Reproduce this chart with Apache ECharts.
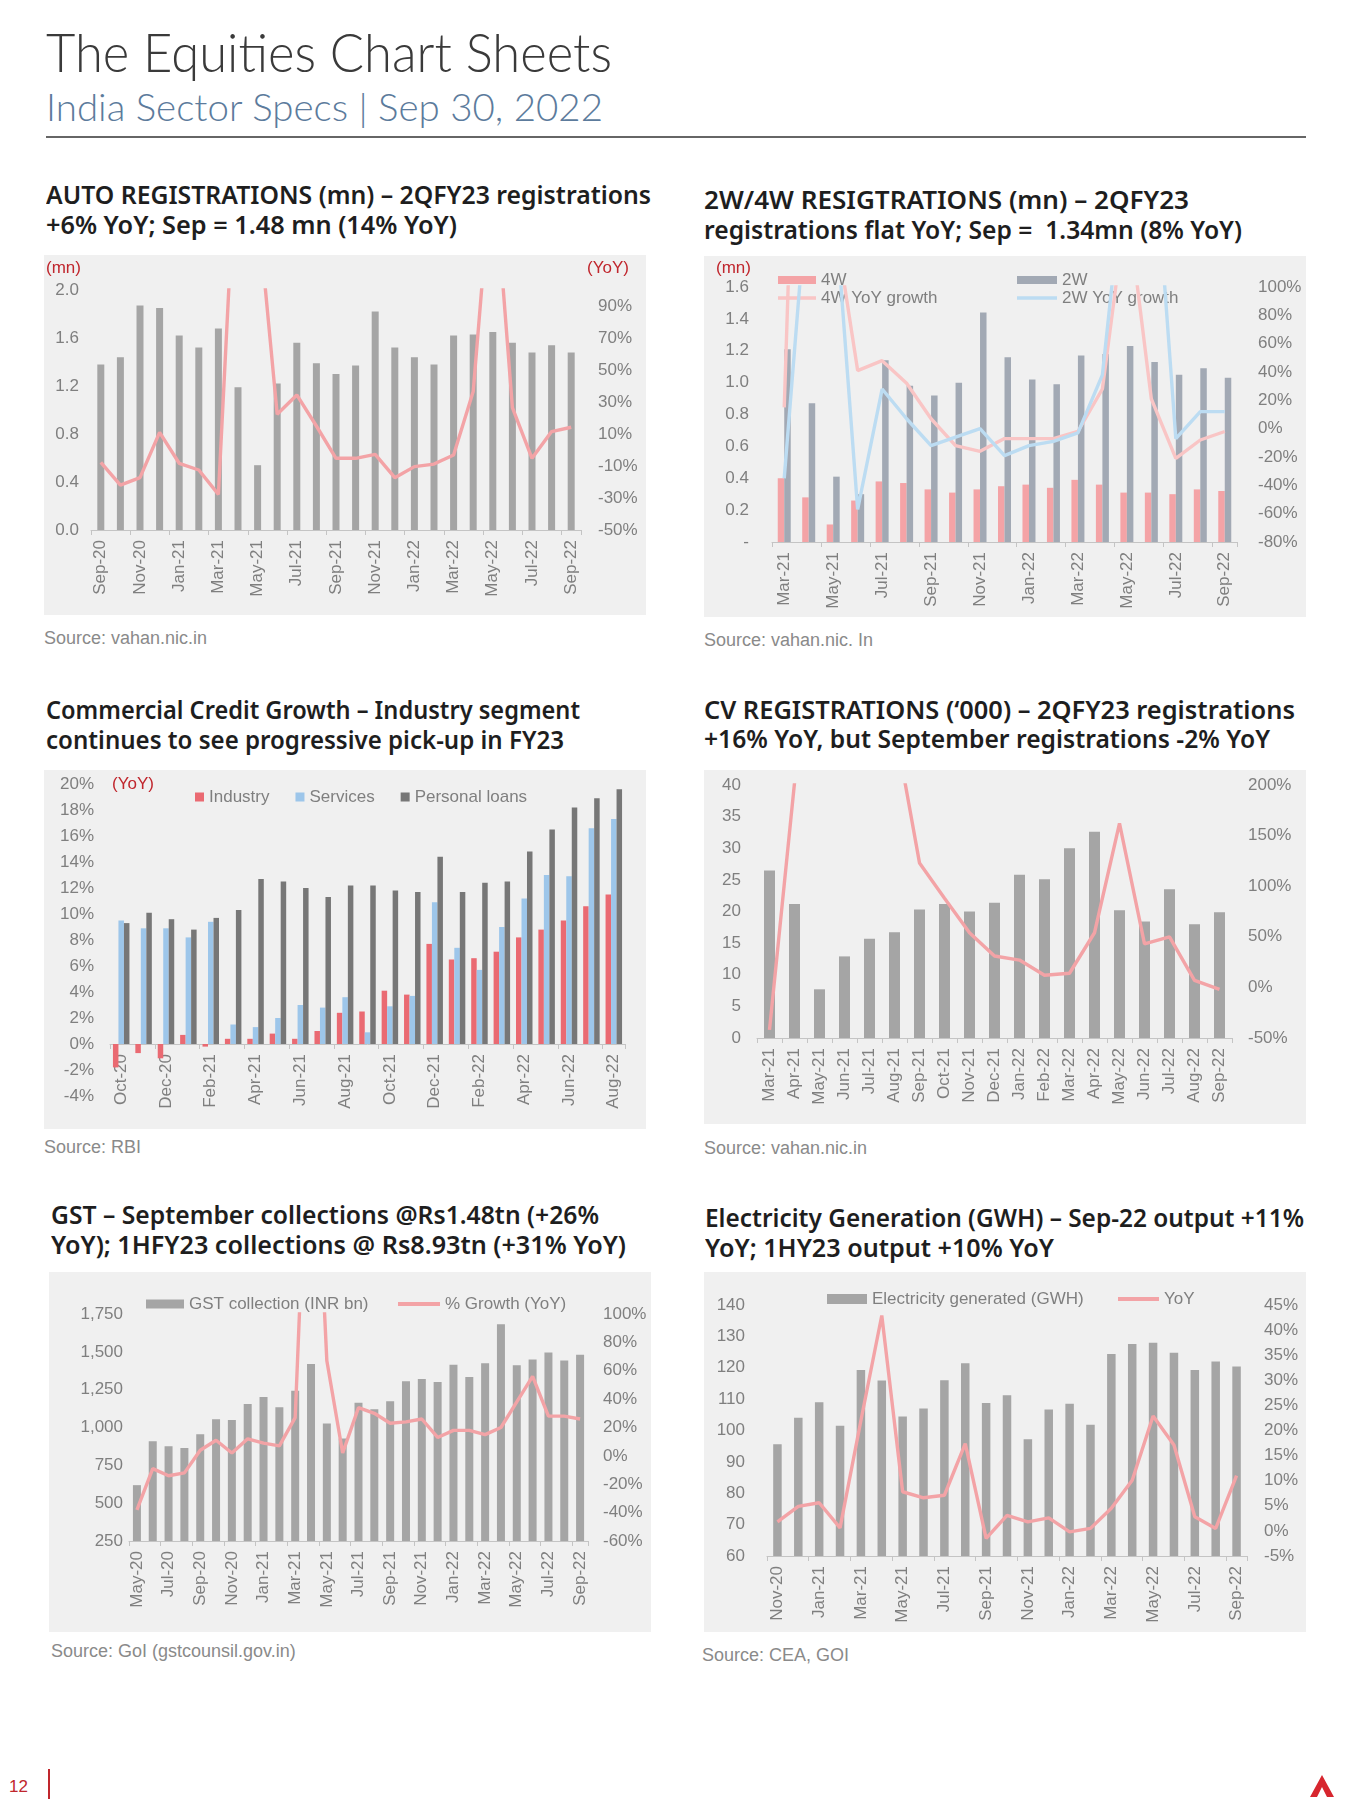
<!DOCTYPE html>
<html>
<head>
<meta charset="utf-8">
<script src="https://cdn.jsdelivr.net/npm/echarts/dist/echarts.min.js"></script>
<style>
  html,body{margin:0;padding:0;}
  body{width:1350px;height:1800px;background:#fff;position:relative;overflow:hidden;font-family:'Liberation Sans',Arial,sans-serif;}
  .t{position:absolute;white-space:pre;display:inline-block;transform-origin:left center;}
  .hdr{font-family:Lato,'Open Sans',sans-serif;font-weight:300;color:#3a3a3a;}
  .pt{font-family:'Noto Sans',sans-serif;font-weight:600;font-size:25px;line-height:30px;color:#1e1e1e;}
  .src{font-size:18px;line-height:20px;color:#8a8a8a;}
  .red{font-size:17px;line-height:20px;color:#c0262d;z-index:5;}
  .chart{position:absolute;background:#f0f0f0;}
</style>
</head>
<body>
<div class="t hdr" data-w="566" style="left:46px;top:20px;font-size:54px;line-height:64px;">The Equities Chart Sheets</div>
<div class="t hdr" data-w="557" style="left:46px;top:84px;font-size:38px;line-height:44px;color:#5c7b9c;">India Sector Specs | Sep 30, 2022</div>
<div style="position:absolute;left:46px;top:136px;width:1260px;height:1.5px;background:#666;"></div>

<div class="t pt" data-w="605" style="left:46px;top:179px;">AUTO REGISTRATIONS (mn) – 2QFY23 registrations</div>
<div class="t pt" data-w="411" style="left:46px;top:209px;">+6% YoY; Sep = 1.48 mn (14% YoY)</div>
<div class="t pt" data-w="485" style="left:704px;top:184px;">2W/4W RESIGTRATIONS (mn) – 2QFY23</div>
<div class="t pt" data-w="538" style="left:704px;top:214px;">registrations flat YoY; Sep =  1.34mn (8% YoY)</div>
<div class="t pt" data-w="534" style="left:46px;top:694px;">Commercial Credit Growth – Industry segment</div>
<div class="t pt" data-w="518" style="left:46px;top:724px;">continues to see progressive pick-up in FY23</div>
<div class="t pt" data-w="591" style="left:704px;top:694px;">CV REGISTRATIONS (‘000) – 2QFY23 registrations</div>
<div class="t pt" data-w="566" style="left:704px;top:723px;">+16% YoY, but September registrations -2% YoY</div>
<div class="t pt" data-w="548" style="left:51px;top:1199px;">GST – September collections @Rs1.48tn (+26%</div>
<div class="t pt" data-w="575" style="left:51px;top:1229px;">YoY); 1HFY23 collections @ Rs8.93tn (+31% YoY)</div>
<div class="t pt" data-w="599" style="left:705px;top:1202px;">Electricity Generation (GWH) – Sep-22 output +11%</div>
<div class="t pt" data-w="349" style="left:705px;top:1232px;">YoY; 1HY23 output +10% YoY</div>

<div id="c1" class="chart" style="left:44px;top:255px;width:602px;height:360px;"></div>
<div id="c2" class="chart" style="left:704px;top:256px;width:602px;height:361px;"></div>
<div id="c3" class="chart" style="left:44px;top:770px;width:602px;height:359px;"></div>
<div id="c4" class="chart" style="left:704px;top:770px;width:602px;height:354px;"></div>
<div id="c5" class="chart" style="left:49px;top:1272px;width:602px;height:360px;"></div>
<div id="c6" class="chart" style="left:704px;top:1272px;width:602px;height:360px;"></div>

<div class="t red" style="left:46px;top:258px;">(mn)</div>
<div class="t red" style="left:587px;top:258px;">(YoY)</div>
<div class="t red" style="left:716px;top:258px;">(mn)</div>
<div class="t red" style="left:112px;top:774px;">(YoY)</div>

<div class="t src" style="left:44px;top:628px;">Source: vahan.nic.in</div>
<div class="t src" style="left:704px;top:630px;">Source: vahan.nic. In</div>
<div class="t src" style="left:44px;top:1137px;">Source: RBI</div>
<div class="t src" style="left:704px;top:1138px;">Source: vahan.nic.in</div>
<div class="t src" style="left:51px;top:1641px;">Source: GoI (gstcounsil.gov.in)</div>
<div class="t src" style="left:702px;top:1645px;">Source: CEA, GOI</div>

<div class="t" style="left:9px;top:1777px;font-size:17px;line-height:20px;color:#c0262d;">12</div>
<div style="position:absolute;left:48px;top:1769px;width:1.5px;height:30px;background:#c0262d;"></div>
<svg style="position:absolute;left:1310px;top:1775px;" width="24" height="22" viewBox="0 0 24 22">
  <path d="M12 0 L24 22 L17 22 L12 12 L7 22 L0 22 Z" fill="#d7262e"/>
</svg>

<script>
// ---------------- DATA ----------------
// Panel 1: Auto registrations
const autoMonths = ['Sep-20','Oct-20','Nov-20','Dec-20','Jan-21','Feb-21','Mar-21','Apr-21','May-21','Jun-21','Jul-21','Aug-21','Sep-21','Oct-21','Nov-21','Dec-21','Jan-22','Feb-22','Mar-22','Apr-22','May-22','Jun-22','Jul-22','Aug-22','Sep-22'];
const autoRegistrations = [1.38,1.44,1.87,1.85,1.62,1.52,1.68,1.19,0.54,1.22,1.56,1.39,1.30,1.37,1.82,1.52,1.44,1.38,1.62,1.63,1.65,1.56,1.48,1.54,1.48];
const autoYoY = [-7.7,-21.9,-17.3,11,-8.3,-12.5,-27.7,214,152,22.3,34.4,15,-5.2,-5.2,-2.7,-17.3,-10.4,-8.8,-3.1,36.5,185,26.5,-5.2,11.5,14.2];

// Panel 2: 2W / 4W registrations
const twMonths = ['Mar-21','Apr-21','May-21','Jun-21','Jul-21','Aug-21','Sep-21','Oct-21','Nov-21','Dec-21','Jan-22','Feb-22','Mar-22','Apr-22','May-22','Jun-22','Jul-22','Aug-22','Sep-22'];
const fourW = [0.40,0.28,0.11,0.26,0.38,0.37,0.33,0.31,0.33,0.35,0.36,0.34,0.39,0.36,0.31,0.31,0.30,0.33,0.32];
const twoW = [1.21,0.87,0.41,0.30,1.14,0.98,0.92,1.00,1.44,1.16,1.02,0.99,1.17,1.18,1.23,1.13,1.05,1.09,1.03];
const fourWYoY = [15,548,153,41,48,32,7,-12,-16,-7,-7,-7,-2,28,160,21,-21,-8,-2];
const twoWYoY = [-35,180,174,-57,28,7,-12,-6,0,-19,-12,-9,-3,38,200,230,-7,12,12];

// Panel 3: Commercial credit growth (YoY %)
const creditMonths = ['Oct-20','Nov-20','Dec-20','Jan-21','Feb-21','Mar-21','Apr-21','May-21','Jun-21','Jul-21','Aug-21','Sep-21','Oct-21','Nov-21','Dec-21','Jan-22','Feb-22','Mar-22','Apr-22','May-22','Jun-22','Jul-22','Aug-22'];
const industry = [-1.8,-0.7,-1.1,0.7,-0.2,0.4,0.4,0.8,0.4,1.0,2.4,2.5,4.1,3.8,7.7,6.5,6.6,7.1,8.2,8.8,9.5,10.6,11.5];
const services = [9.5,8.9,8.9,8.2,9.4,1.5,1.3,2.0,3.0,2.8,3.6,0.9,2.9,3.7,10.9,7.4,5.7,9.0,11.2,13.0,12.9,16.6,17.3];
const personalLoans = [9.3,10.1,9.6,8.8,9.7,10.3,12.7,12.5,12.0,11.3,12.2,12.2,11.8,11.7,14.4,11.7,12.4,12.5,14.8,16.5,18.2,18.9,19.6];

// Panel 4: CV registrations ('000)
const cvMonths = ['Mar-21','Apr-21','May-21','Jun-21','Jul-21','Aug-21','Sep-21','Oct-21','Nov-21','Dec-21','Jan-22','Feb-22','Mar-22','Apr-22','May-22','Jun-22','Jul-22','Aug-22','Sep-22'];
const cvRegistrations = [26.5,21.2,7.7,12.9,15.7,16.7,20.3,21.2,20.0,21.4,25.8,25.1,30.0,32.6,20.2,18.4,23.5,18.0,19.9];
const cvYoY = [-42,202,1200,400,300,260,123,88,54,31,27,12,14,54,162,43,50,7,-2];

// Panel 5: GST collections
const gstMonths = ['May-20','Jun-20','Jul-20','Aug-20','Sep-20','Oct-20','Nov-20','Dec-20','Jan-21','Feb-21','Mar-21','Apr-21','May-21','Jun-21','Jul-21','Aug-21','Sep-21','Oct-21','Nov-21','Dec-21','Jan-22','Feb-22','Mar-22','Apr-22','May-22','Jun-22','Jul-22','Aug-22','Sep-22'];
const gstCollection = [619,909,876,865,955,1054,1050,1155,1201,1133,1243,1419,1026,927,1164,1120,1173,1305,1320,1300,1414,1333,1425,1682,1412,1450,1496,1443,1480];
const gstYoY = [-38,-9,-14,-12,4,11,2,12,9,7,27,300,67,2,34,30,23,24,26,13,18,18,15,20,38,56,28,28,26];

// Panel 6: Electricity generation
const elecMonths = ['Nov-20','Dec-20','Jan-21','Feb-21','Mar-21','Apr-21','May-21','Jun-21','Jul-21','Aug-21','Sep-21','Oct-21','Nov-21','Dec-21','Jan-22','Feb-22','Mar-22','Apr-22','May-22','Jun-22','Jul-22','Aug-22','Sep-22'];
const elecGeneration = [95.6,104.1,109.0,101.5,119.3,115.9,104.5,107.0,116.0,121.4,108.8,111.2,97.2,106.7,108.5,101.8,124.4,127.6,128.0,124.8,119.3,122.0,120.4];
const elecYoY = [1.8,4.9,5.6,0.6,22,42.9,7.8,6.6,7.1,17.4,-1.5,3.1,1.8,2.6,-0.2,0.5,4.5,10.1,22.9,17.1,2.8,0.5,11.0];

// ---------------- STYLE HELPERS ----------------
const FONT = "'Liberation Sans', Arial, sans-serif";
const LABEL = '#7f7f7f';
const AXIS = '#c4c4c4';
const GRAY_BAR = '#a5a5a5';
const PINK = '#f3a3a6';

function catAxis(cats, interval, offset) {
  return {
    type: 'category', data: cats, boundaryGap: true, offset: offset || 0,
    axisLine: { show: true, onZero: false, lineStyle: { color: AXIS, width: 1 } },
    axisTick: { show: true, interval: interval, alignWithLabel: false, length: 5, lineStyle: { color: AXIS } },
    axisLabel: { rotate: 90, interval: interval, color: LABEL, fontSize: 17, fontFamily: FONT, margin: 10 },
    splitLine: { show: false }
  };
}
function valAxis(o) {
  return {
    type: 'value', min: o.min, max: o.max, interval: o.interval, position: o.position || 'left',
    splitLine: { show: false }, axisLine: { show: false }, axisTick: { show: false },
    axisLabel: { color: LABEL, fontSize: 17, fontFamily: FONT, margin: o.margin, formatter: o.formatter,
                 showMaxLabel: o.showMaxLabel === undefined ? true : o.showMaxLabel }
  };
}
function gridOf(l, r, t, b) {
  return { left: l, right: r, top: t, bottom: b, containLabel: false, outerBoundsMode: 'none' };
}
function legendOf(name, icon, left, top, w, h) {
  return { data: [{ name: name, icon: icon }], left: left, top: top, itemWidth: w, itemHeight: h,
           padding: 0, itemGap: 0, selectedMode: false,
           textStyle: { color: LABEL, fontSize: 17, fontFamily: FONT, lineHeight: 20 } };
}
function lineSeries(name, data, color, yIdx) {
  return { name: name, type: 'line', data: data, yAxisIndex: yIdx, symbol: 'none', clip: true, z: 5,
           lineStyle: { color: color, width: 3.4 }, itemStyle: { color: color } };
}
function barSeries(name, data, color, w, gap) {
  const s = { name: name, type: 'bar', data: data, barWidth: w, itemStyle: { color: color } };
  if (gap !== undefined) s.barGap = gap;
  return s;
}
function mk(id, option) {
  const c = echarts.init(document.getElementById(id), null, { renderer: 'canvas' });
  option.animation = false;
  option.backgroundColor = '#f0f0f0';
  option.textStyle = { fontFamily: FONT };
  c.setOption(option);
}

// ---------------- PANEL 1 ----------------
const P1_OFFSET = 50; // right axis runs -50%..100%; shift so ticks fall on -50,-30,...
mk('c1', {
  grid: gridOf(47, 65, 35, 85),
  xAxis: catAxis(autoMonths, 1),
  yAxis: [
    valAxis({ min: 0, max: 2, interval: 0.4, margin: 12, formatter: v => v.toFixed(1) }),
    valAxis({ min: 0, max: 150, interval: 20, position: 'right', margin: 17, showMaxLabel: false,
              formatter: v => (v - P1_OFFSET) + '%' })
  ],
  series: [
    barSeries('Registrations', autoRegistrations, GRAY_BAR, 7),
    lineSeries('YoY', autoYoY.map(v => v + P1_OFFSET), PINK, 1)
  ]
});

// ---------------- PANEL 2 ----------------
mk('c2', {
  grid: gridOf(68, 69, 31, 75),
  legend: [
    legendOf('4W', 'rect', 74, 14, 38, 8),
    legendOf('2W', 'rect', 313, 14, 40, 8),
    legendOf('4W YoY growth', 'rect', 74, 32, 38, 3.5),
    legendOf('2W YoY growth', 'rect', 313, 32, 40, 3.5)
  ],
  xAxis: catAxis(twMonths, 1),
  yAxis: [
    valAxis({ min: 0, max: 1.6, interval: 0.2, margin: 23, formatter: v => (Math.abs(v) < 1e-9 ? '-' : v.toFixed(1)) }),
    valAxis({ min: -80, max: 100, interval: 20, position: 'right', margin: 21, formatter: v => v + '%' })
  ],
  series: [
    barSeries('4W', fourW, '#f4a3a6', 6.5, '0%'),
    barSeries('2W', twoW, '#a2a9b4', 6.5, '0%'),
    lineSeries('4W YoY growth', fourWYoY, '#f9c5c5', 1),
    lineSeries('2W YoY growth', twoWYoY, '#bcdcf2', 1)
  ]
});

// ---------------- PANEL 3 ----------------
// category axis sits on the 0% line: move it up from the grid bottom by the 0..min distance
const P3_MIN = -4, P3_MAX = 20, P3_TOP = 14, P3_BOTTOM = 33, P3_H = 359;
const p3ZeroOffset = -((P3_H - P3_TOP - P3_BOTTOM) * (0 - P3_MIN) / (P3_MAX - P3_MIN));
mk('c3', {
  grid: gridOf(66, 21, P3_TOP, P3_BOTTOM),
  legend: {
    data: [{ name: 'Industry', icon: 'rect' }, { name: 'Services', icon: 'rect' }, { name: 'Personal loans', icon: 'rect' }],
    left: 151, top: 17, itemWidth: 9, itemHeight: 9, itemGap: 26, padding: 0, selectedMode: false,
    textStyle: { color: LABEL, fontSize: 17, fontFamily: FONT, lineHeight: 20 }
  },
  xAxis: catAxis(creditMonths, 1, p3ZeroOffset),
  yAxis: valAxis({ min: P3_MIN, max: P3_MAX, interval: 2, margin: 16, formatter: v => v + '%' }),
  series: [
    barSeries('Industry', industry, '#ea6a72', 5.5, '0%'),
    barSeries('Services', services, '#9dc6ea', 5.5, '0%'),
    barSeries('Personal loans', personalLoans, '#777777', 5.5, '0%')
  ]
});

// ---------------- PANEL 4 ----------------
mk('c4', {
  grid: gridOf(53, 74, 15, 86),
  xAxis: catAxis(cvMonths, 0),
  yAxis: [
    valAxis({ min: 0, max: 40, interval: 5, margin: 16 }),
    valAxis({ min: -50, max: 200, interval: 50, position: 'right', margin: 16, formatter: v => v + '%' })
  ],
  series: [
    barSeries('CV registrations', cvRegistrations, GRAY_BAR, 11),
    lineSeries('YoY', cvYoY, PINK, 1)
  ]
});

// ---------------- PANEL 5 ----------------
mk('c5', {
  grid: gridOf(80, 63, 42, 91),
  legend: [
    legendOf('GST collection (INR bn)', 'rect', 97, 22, 38, 9),
    legendOf('% Growth (YoY)', 'rect', 349, 22, 42, 4)
  ],
  xAxis: catAxis(gstMonths, 1),
  yAxis: [
    valAxis({ min: 250, max: 1750, interval: 250, margin: 6, formatter: v => v.toLocaleString('en-US') }),
    valAxis({ min: -60, max: 100, interval: 20, position: 'right', margin: 15, formatter: v => v + '%' })
  ],
  series: [
    barSeries('GST collection (INR bn)', gstCollection, GRAY_BAR, 8),
    lineSeries('% Growth (YoY)', gstYoY, PINK, 1)
  ]
});

// ---------------- PANEL 6 ----------------
mk('c6', {
  grid: gridOf(63, 59, 33, 76),
  legend: [
    legendOf('Electricity generated (GWH)', 'rect', 123, 17, 40, 10),
    legendOf('YoY', 'rect', 414, 17, 41, 4)
  ],
  xAxis: catAxis(elecMonths, 1),
  yAxis: [
    valAxis({ min: 60, max: 140, interval: 10, margin: 22 }),
    valAxis({ min: -5, max: 45, interval: 5, position: 'right', margin: 17, formatter: v => v + '%' })
  ],
  series: [
    barSeries('Electricity generated (GWH)', elecGeneration, GRAY_BAR, 8.5),
    lineSeries('YoY', elecYoY, PINK, 1)
  ]
});

// ---------------- fit heading widths ----------------
document.querySelectorAll('[data-w]').forEach(el => {
  const w = el.getBoundingClientRect().width;
  const target = parseFloat(el.getAttribute('data-w'));
  if (w > 0) el.style.transform = 'scaleX(' + (target / w).toFixed(4) + ')';
});
</script>
</body>
</html>
